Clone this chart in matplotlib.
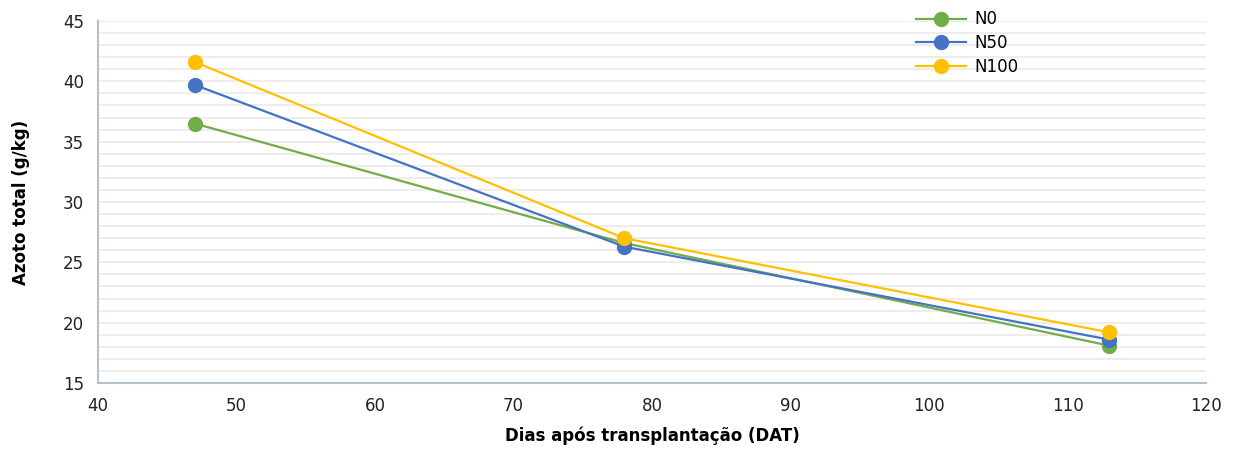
import numpy as np
import matplotlib.pyplot as plt
from matplotlib.ticker import MultipleLocator

# Dados
dat = [47, 78, 113]
n0 = [36.5, 26.6, 18.1]
n50 = [39.7, 26.3, 18.6]
n100 = [41.6, 27.0, 19.2]

series = [("N0", n0, "#70AD47"), ("N50", n50, "#4472C4"), ("N100", n100, "#FFC000")]

fig = plt.figure(figsize=(12.4, 4.53), dpi=100)
ax = fig.add_axes([0.079, 0.1545, 0.8936, 0.7991])

for nome, vals, cor in series:
    ax.plot(dat, vals, color=cor, linewidth=1.6, marker="o", markersize=10,
            label=nome, zorder=3)

ax.set_xlim(40, 120)
ax.set_ylim(15, 45)
ax.xaxis.set_major_locator(MultipleLocator(10))
ax.yaxis.set_major_locator(MultipleLocator(5))
ax.yaxis.set_minor_locator(MultipleLocator(1))
ax.grid(which="both", axis="y", color="#EAEAEA", linewidth=1.2)
ax.set_axisbelow(True)

for s in ["top", "right"]:
    ax.spines[s].set_visible(False)
for s in ["left", "bottom"]:
    ax.spines[s].set_color("#B4C0D0")
    ax.spines[s].set_linewidth(1.5)

ax.tick_params(which="both", length=0, labelsize=12, colors="#222222")
ax.tick_params(axis="x", pad=10)
ax.tick_params(axis="y", pad=10)

ax.set_xlabel("Dias após transplantação (DAT)", fontsize=12, fontweight="bold", labelpad=8)
ax.set_ylabel("Azoto total (g/kg)", fontsize=12, fontweight="bold", labelpad=24)

leg = fig.legend(loc="upper left", bbox_to_anchor=(0.727, 1.01), frameon=False,
                 fontsize=12, handlelength=3.0, labelspacing=0.35, handletextpad=0.5)

fig.savefig("out.png", dpi=100)
